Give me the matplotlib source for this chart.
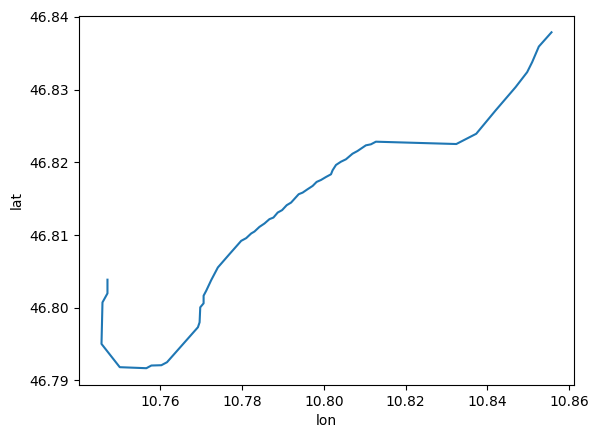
import matplotlib
matplotlib.use("Agg")
import matplotlib.pyplot as plt

lon = [10.74705, 10.74705, 10.74583, 10.74559, 10.75006, 10.75657, 10.75780, 10.76024,
       10.76162, 10.76919, 10.76960, 10.76976, 10.77058, 10.77058, 10.77123, 10.77245,
       10.77407, 10.77692, 10.77978, 10.78100, 10.78222, 10.78303, 10.78425, 10.78547,
       10.78669, 10.78767, 10.78872, 10.78979, 10.79092, 10.79199, 10.79385, 10.79482,
       10.79604, 10.79727, 10.79824, 10.79932, 10.80054, 10.80176, 10.80215, 10.80298,
       10.80420, 10.80542, 10.80703, 10.80825, 10.81030, 10.81153, 10.81275, 10.83243,
       10.83731, 10.84205, 10.84694, 10.84977, 10.85099, 10.85263, 10.85573]
lat = [46.80386, 46.80198, 46.80074, 46.79503, 46.79183, 46.79169, 46.79206, 46.79210,
       46.79251, 46.79732, 46.79800, 46.80006, 46.80061, 46.80166, 46.80235, 46.80381,
       46.80554, 46.80738, 46.80920, 46.80957, 46.81021, 46.81048, 46.81112, 46.81158,
       46.81218, 46.81240, 46.81309, 46.81342, 46.81410, 46.81446, 46.81561, 46.81583,
       46.81630, 46.81675, 46.81730, 46.81757, 46.81798, 46.81835, 46.81890, 46.81963,
       46.82008, 46.82041, 46.82118, 46.82155, 46.82233, 46.82247, 46.82283, 46.82251,
       46.82392, 46.82713, 46.83033, 46.83239, 46.83376, 46.83591, 46.83787]

fig = plt.figure(figsize=(5.99, 4.38), dpi=100)
ax = fig.add_axes([79/599, 1 - 385/438, (574 - 79)/599, (385 - 15.5)/438])
ax.plot(lon, lat, color="#1f77b4", linewidth=1.5)
ax.set_xlabel("lon")
ax.set_ylabel("lat")
fig.savefig("out.png", dpi=100)
